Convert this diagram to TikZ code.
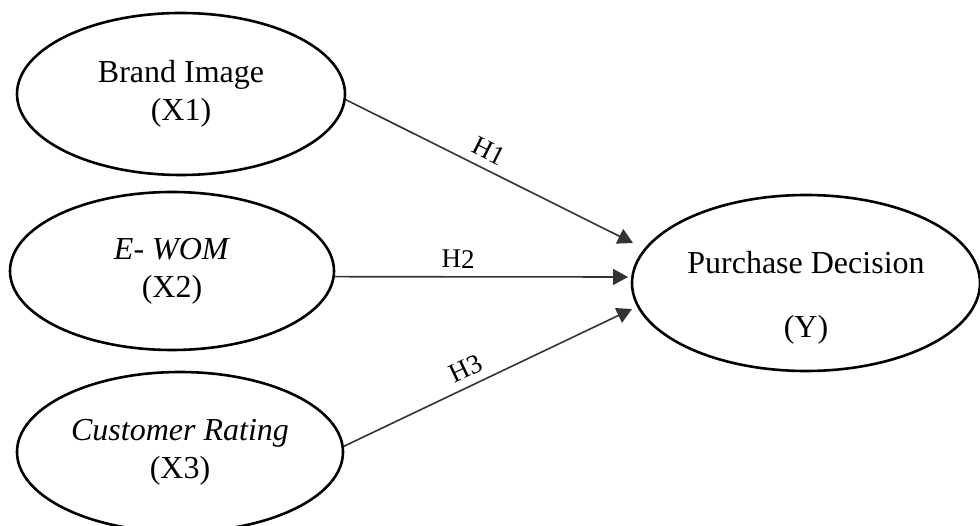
\documentclass[tikz,border=0pt]{standalone}
\usepackage{fontspec}
\setmainfont{Liberation Serif}
\usetikzlibrary{shapes.geometric,arrows.meta}
\begin{document}
\begin{tikzpicture}[x=1pt,y=-1pt,
  var/.style={draw, ellipse, line width=2.6pt, inner sep=0pt, align=center,
    font=\fontsize{32}{38}\selectfont},
  vartext/.style={align=center, inner sep=0pt, font=\fontsize{32}{38}\selectfont},
  link/.style={line width=1.6pt, draw=black!80,
    -{Triangle[length=15pt,width=16pt]}},
  hyp/.style={font=\fontsize{27}{30}\selectfont, sloped, above, inner sep=8pt}]
\useasboundingbox (0,0) rectangle (980,526);
\begin{scope}
\clip (0,0) rectangle (980,526);
\node[var, minimum width=328pt, minimum height=162pt] (x1) at (181,94)
  {Brand Image\\(X1)};
\node[var, minimum width=324pt, minimum height=158pt] (x2) at (172,271)
  {\textit{E- WOM}\\(X2)};
\node[var, minimum width=326pt, minimum height=160pt] (x3) at (180,452)
  {\textit{Customer Rating}\\(X3)};
\node[var, minimum width=348pt, minimum height=176pt] (y) at (806,283) {};
\node[vartext] (ylab) at (806,298) {Purchase Decision\\[26pt](Y)};
\end{scope}
\coordinate (t1) at (633,243);
\coordinate (t2) at (628,277);
\coordinate (t3) at (632,309);
\draw[link] (x1.-2) -- node[hyp, pos=0.47] (h1) {H1} (t1);
\draw[link] (x2.-2) -- node[hyp, pos=0.42] (h2) {H2} (t2);
\draw[link] (x3.2) -- node[hyp, pos=0.45] (h3) {H3} (t3);
\end{tikzpicture}
\end{document}
